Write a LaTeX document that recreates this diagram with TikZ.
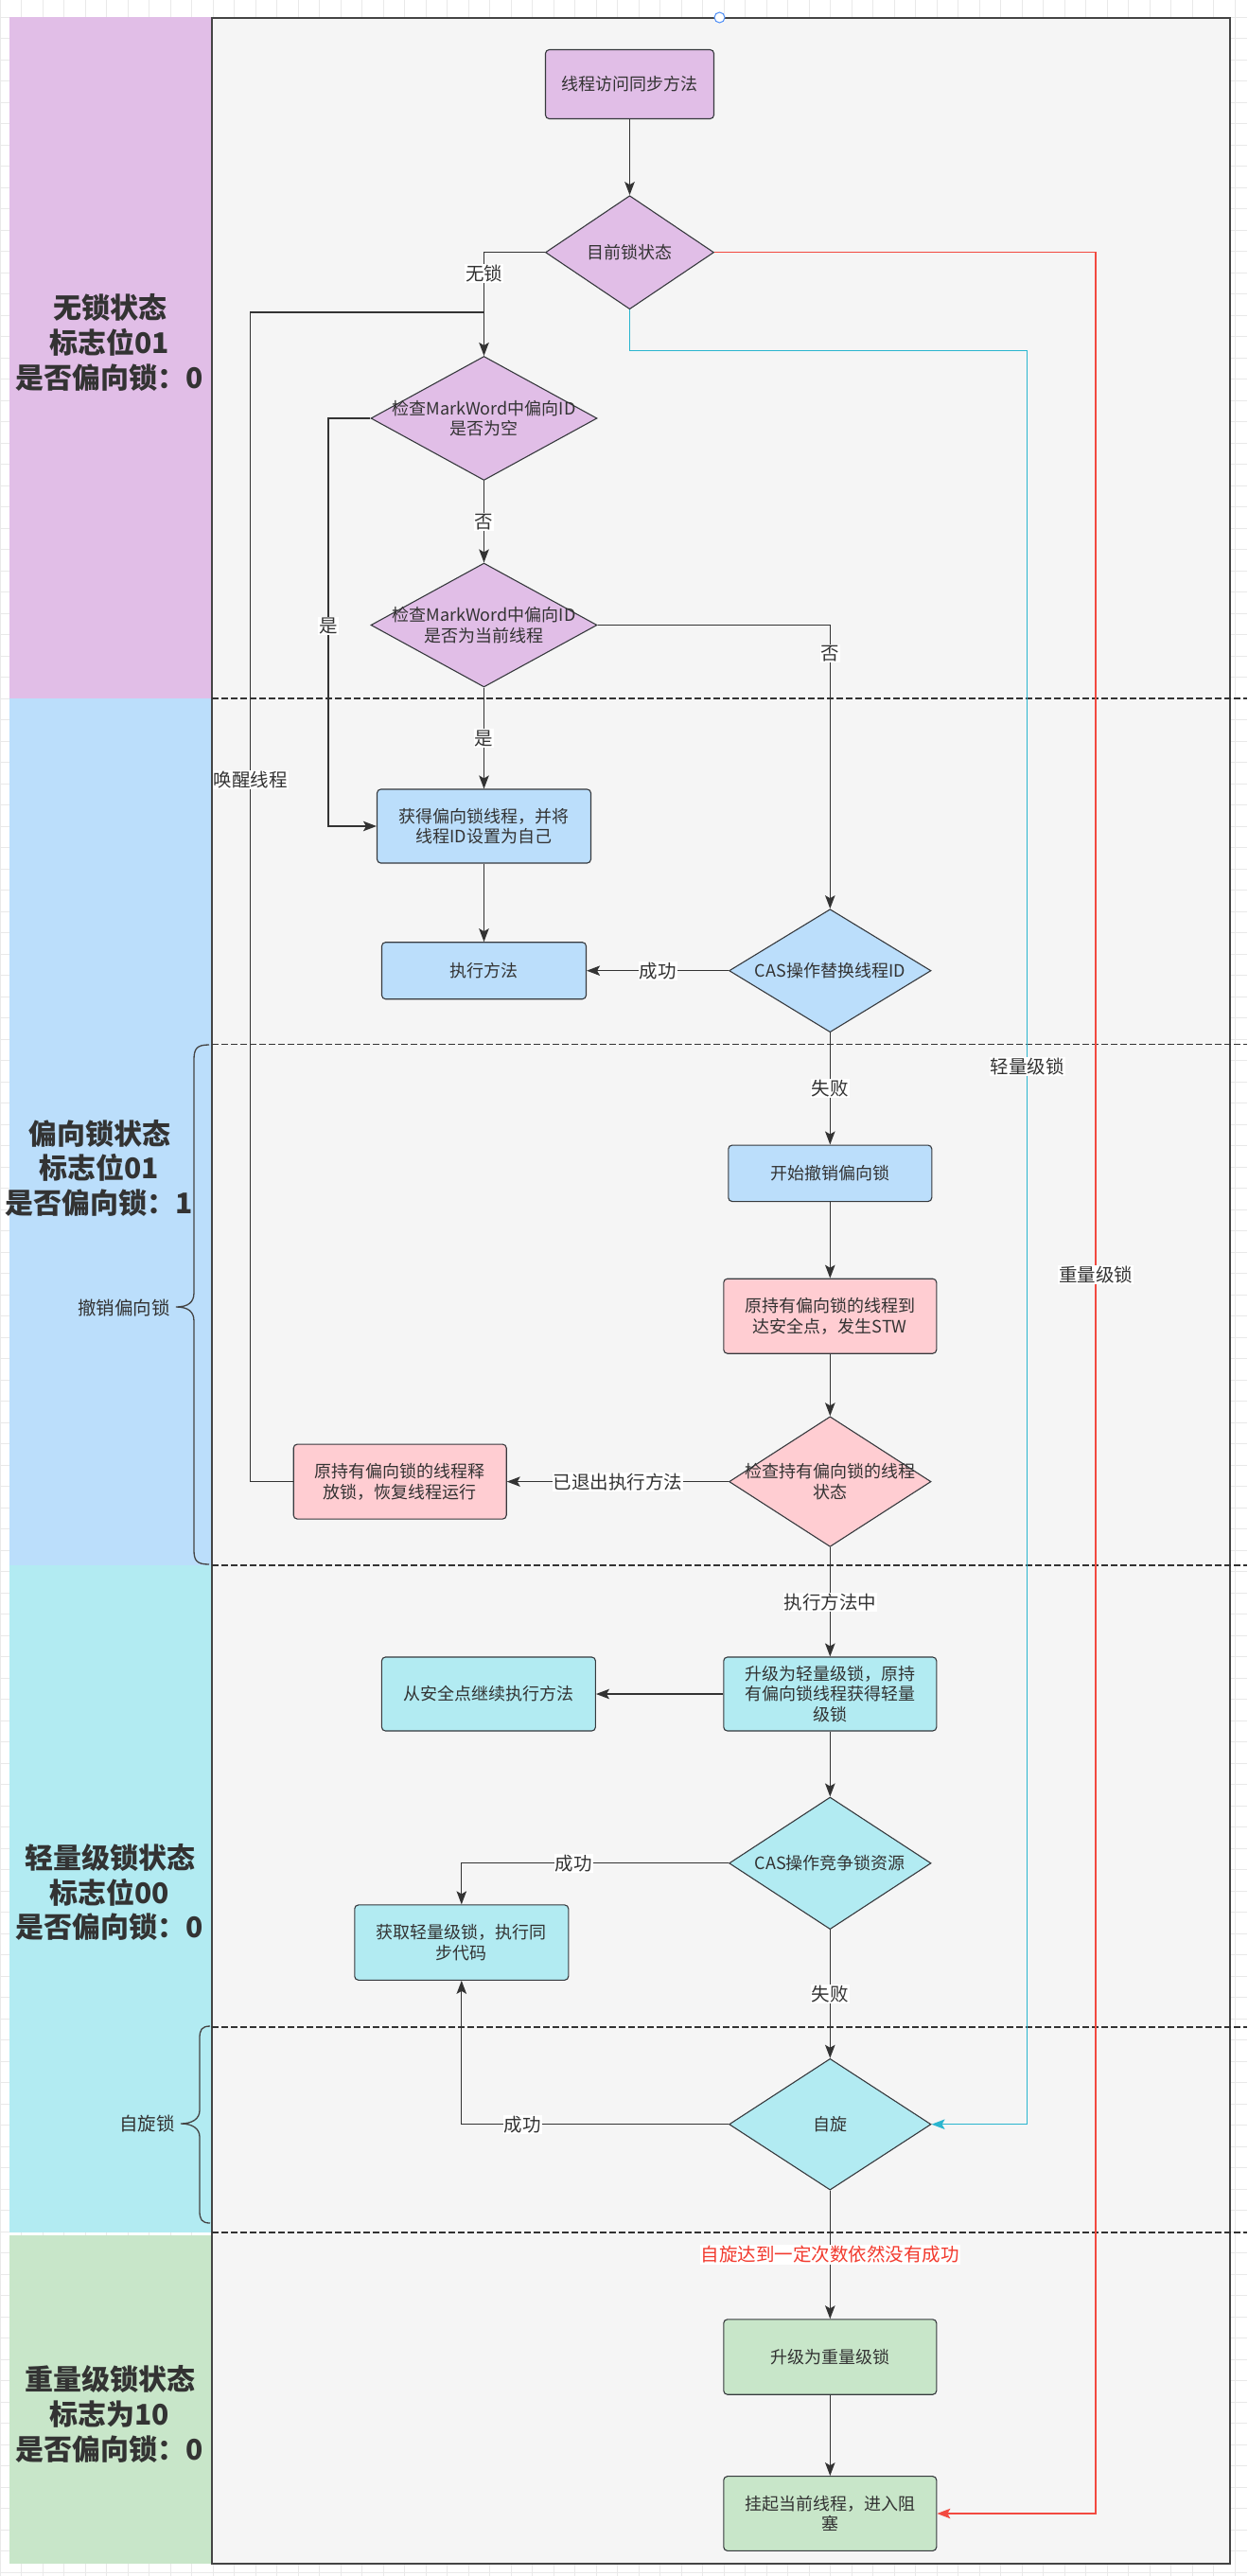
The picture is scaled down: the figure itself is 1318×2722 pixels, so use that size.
\documentclass[tikz,border=0pt]{standalone}
\usepackage{fontspec}
\setmainfont{Noto Sans CJK SC}
\usetikzlibrary{arrows.meta,shapes.geometric,calc}
\definecolor{lanepurple}{HTML}{E1BEE7}
\definecolor{laneblue}{HTML}{BBDEFB}
\definecolor{lanecyan}{HTML}{B2EBF2}
\definecolor{lanegreen}{HTML}{C8E6C9}
\definecolor{nodepink}{HTML}{FFCDD2}
\definecolor{contfill}{HTML}{F5F5F5}
\definecolor{contdraw}{HTML}{444444}
\definecolor{nodeborder}{HTML}{36393D}
\definecolor{txt}{HTML}{333333}
\definecolor{linec}{HTML}{333333}
\definecolor{cyanline}{HTML}{2AB5CF}
\definecolor{redline}{HTML}{F24A40}
\definecolor{redtext}{HTML}{F23A2E}
\definecolor{gridc}{HTML}{E9E9E9}
\definecolor{handle}{HTML}{4D8EF7}
\newcommand\myNodeFont{\fontsize{18}{21.6}\selectfont}
\newcommand\myLabelFont{\fontsize{19.5}{23}\selectfont}
\newcommand\myLaneFont{\fontsize{30}{36.6}\selectfont\bfseries}
\begin{document}
\begin{tikzpicture}[x=1pt,y=-1pt,
  gridl/.style={draw=gridc,line width=1pt},
  box/.style={draw=nodeborder,line width=1.1pt,rounded corners=4pt,inner sep=0pt,align=center,text=txt,font=\myNodeFont},
  dia/.style={diamond,draw=nodeborder,line width=1.1pt,inner sep=0pt},
  dtext/.style={align=center,text=txt,font=\myNodeFont,inner sep=0pt},
  conn/.style={draw=linec,line width=1.3pt},
  arr/.style={-{Stealth[length=14pt,width=10.5pt,inset=3pt]}},
  elabel/.style={fill=white,text=txt,font=\myLabelFont,inner sep=1pt},
  lanetext/.style={align=center,text=txt,font=\myLaneFont},
  sidetext/.style={text=txt,font=\myLabelFont,inner sep=0pt},
  sep/.style={draw=linec,line width=1.2pt,dash pattern=on 7pt off 3pt},
  bracec/.style={draw=contdraw,line width=1.3pt}
]
\useasboundingbox (0,0) rectangle (1318,2722);
\fill[white] (0,0) rectangle (1318,2722);
% background grid
\foreach \k in {0,...,58} { \draw[gridl] ({0.2+22.5*\k},0) -- ({0.2+22.5*\k},2722); }
\foreach \k in {0,...,120} { \draw[gridl] (0,{18.2+22.5*\k}) -- (1318,{18.2+22.5*\k}); }
% lanes
\fill[lanepurple] (10,18) rectangle (224,738);
\fill[laneblue] (10,738) rectangle (224,1654);
\fill[lanecyan] (10,1654) rectangle (224,2359);
\fill[lanegreen] (10,2362) rectangle (224,2709);
\node[lanetext] (t1) at (116,362) {无锁状态\\标志位01\\是否偏向锁：0};
\node[lanetext] (t2) at (105,1234.4) {偏向锁状态\\标志位01\\是否偏向锁：1};
\node[lanetext] (t3) at (116,1999.5) {轻量级锁状态\\标志位00\\是否偏向锁：0};
\node[lanetext] (t4) at (116,2551) {重量级锁状态\\标志为10\\是否偏向锁：0};
% container
\draw[fill=contfill,draw=contdraw,line width=1.6pt] (224,19) rectangle (1300,2709);
\draw[draw=handle,fill=white,line width=1pt] (760.5,18.5) circle (5.5pt);
% separators
\draw[sep] (224,738) -- (1318,738);
\draw[sep] (224,1103.5) -- (1318,1103.5);
\draw[sep] (224,1654) -- (1318,1654);
\draw[sep] (224,2142) -- (1318,2142);
\draw[sep] (224,2359) -- (1318,2359);
% braces
\draw[bracec] (221,1104) .. controls (208,1104) and (205,1108) .. (205,1120) -- (205,1366) .. controls (205,1376) and (199,1381) .. (186,1381) .. controls (199,1381) and (205,1386) .. (205,1396) -- (205,1638) .. controls (205,1649) and (208,1653) .. (221,1653);
\draw[bracec] (222,2141) .. controls (213,2141) and (211,2145) .. (211,2154) -- (211,2230) .. controls (211,2239) and (203,2244) .. (191,2244) .. controls (203,2244) and (211,2249) .. (211,2258) -- (211,2336) .. controls (211,2345) and (213,2349) .. (222,2349);
\node[sidetext,anchor=east] (b1) at (180,1381.6) {撤销偏向锁};
\node[sidetext,anchor=east] (b2) at (185,2244) {自旋锁};
% nodes
\node[box,fill=lanepurple,minimum width=178pt,minimum height=73pt] (n1) at (665.5,89) {线程访问同步方法};
\node[dia,fill=lanepurple,minimum width=178pt,minimum height=120pt,label={[dtext]center:目前锁状态}] (d2) at (665.5,266.7) {};
\node[dia,fill=lanepurple,minimum width=239pt,minimum height=131pt,label={[dtext]center:{检查MarkWord中偏向ID\\是否为空}}] (d3) at (511.5,442) {};
\node[dia,fill=lanepurple,minimum width=239pt,minimum height=131pt,label={[dtext]center:{检查MarkWord中偏向ID\\是否为当前线程}}] (d4) at (511.5,660.5) {};
\node[box,fill=laneblue,minimum width=226pt,minimum height=78pt] (n5) at (511.5,873) {获得偏向锁线程，并将\\线程ID设置为自己};
\node[box,fill=laneblue,minimum width=216pt,minimum height=60pt] (n6) at (511.5,1025.7) {执行方法};
\node[dia,fill=laneblue,minimum width=213.4pt,minimum height=130pt,label={[dtext]center:CAS操作替换线程ID}] (d7) at (877.3,1025.7) {};
\node[box,fill=laneblue,minimum width=215pt,minimum height=59.5pt] (n8) at (877.3,1239.8) {开始撤销偏向锁};
\node[box,fill=nodepink,minimum width=225pt,minimum height=79pt] (n9) at (877.3,1390.7) {原持有偏向锁的线程到\\达安全点，发生STW};
\node[dia,fill=nodepink,minimum width=213.4pt,minimum height=137.6pt,label={[dtext]center:{检查持有偏向锁的线程\\状态}}] (d10) at (877.3,1565.6) {};
\node[box,fill=nodepink,minimum width=225pt,minimum height=79pt] (n11) at (422.7,1565.6) {原持有偏向锁的线程释\\放锁，恢复线程运行};
\node[box,fill=lanecyan,minimum width=225pt,minimum height=78pt] (n12) at (877.3,1790) {升级为轻量级锁，原持\\有偏向锁线程获得轻量\\级锁};
\node[box,fill=lanecyan,minimum width=226pt,minimum height=78pt] (n13) at (516.4,1790) {从安全点继续执行方法};
\node[dia,fill=lanecyan,minimum width=213.4pt,minimum height=139.6pt,label={[dtext]center:CAS操作竞争锁资源}] (d14) at (877.3,1968.8) {};
\node[box,fill=lanecyan,minimum width=226pt,minimum height=79.4pt] (n15) at (487.8,2052.6) {获取轻量级锁，执行同\\步代码};
\node[dia,fill=lanecyan,minimum width=213.4pt,minimum height=138.8pt,label={[dtext]center:自旋}] (d16) at (877.3,2244.7) {};
\node[box,fill=lanegreen,minimum width=225pt,minimum height=79.4pt] (n17) at (877.3,2490.5) {升级为重量级锁};
\node[box,fill=lanegreen,minimum width=225pt,minimum height=78.7pt] (n18) at (877.3,2656) {挂起当前线程，进入阻\\塞};
% bend points
\coordinate (wk) at (264.7,330);
\coordinate (yx) at (347,442);
\coordinate (cy) at (1085.7,370.8);
\coordinate (rx) at (1158,266.7);
% connectors
\draw[conn,arr] (n1.south) -- (d2.north);
\draw[conn,arr] (d2.west) -| node[elabel,pos=0.6]{无锁} (d3.north);
\draw[conn] (n11.west) -| node[elabel,pos=0.8]{唤醒线程} (wk) -- (wk -| d3.north);
\draw[conn,arr] (d3.south) -- node[elabel]{否} (d4.north);
\draw[conn,arr] (d3.west) -- (yx) |- node[elabel,pos=0.255]{是} (n5.west);
\draw[conn,arr] (d4.south) -- node[elabel]{是} (n5.north);
\draw[conn,arr] (d4.east) -| node[elabel,pos=0.55]{否} (d7.north);
\draw[conn,arr] (n5.south) -- (n6.north);
\draw[conn,arr] (d7.west) -- node[elabel]{成功} (n6.east);
\draw[conn,arr] (d7.south) -- node[elabel]{失败} (n8.north);
\draw[conn,arr] (n8.south) -- (n9.north);
\draw[conn,arr] (n9.south) -- (d10.north);
\draw[conn,arr] (d10.west) -- node[elabel]{已退出执行方法} (n11.east);
\draw[conn,arr] (d10.south) -- node[elabel]{执行方法中} (n12.north);
\draw[conn,arr] (n12.west) -- (n13.east);
\draw[conn,arr] (n12.south) -- (d14.north);
\draw[conn,arr] (d14.west) -| node[elabel,pos=0.29]{成功} (n15.north);
\draw[conn,arr] (d14.south) -- node[elabel]{失败} (d16.north);
\draw[conn,arr] (d16.west) -| node[elabel,pos=0.386]{成功} (n15.south);
\draw[conn,arr] (d16.south) -- node[elabel,text=redtext]{自旋达到一定次数依然没有成功} (n17.north);
\draw[conn,arr] (n17.south) -- (n18.north);
\draw[conn,draw=redline,arr] (d2.east) -- (rx) |- node[elabel,pos=0.226]{重量级锁} (n18.east);
\draw[conn,draw=cyanline,arr] (d2.south) |- (cy) |- node[elabel,pos=0.2018]{轻量级锁} (d16.east);
\end{tikzpicture}
\end{document}
